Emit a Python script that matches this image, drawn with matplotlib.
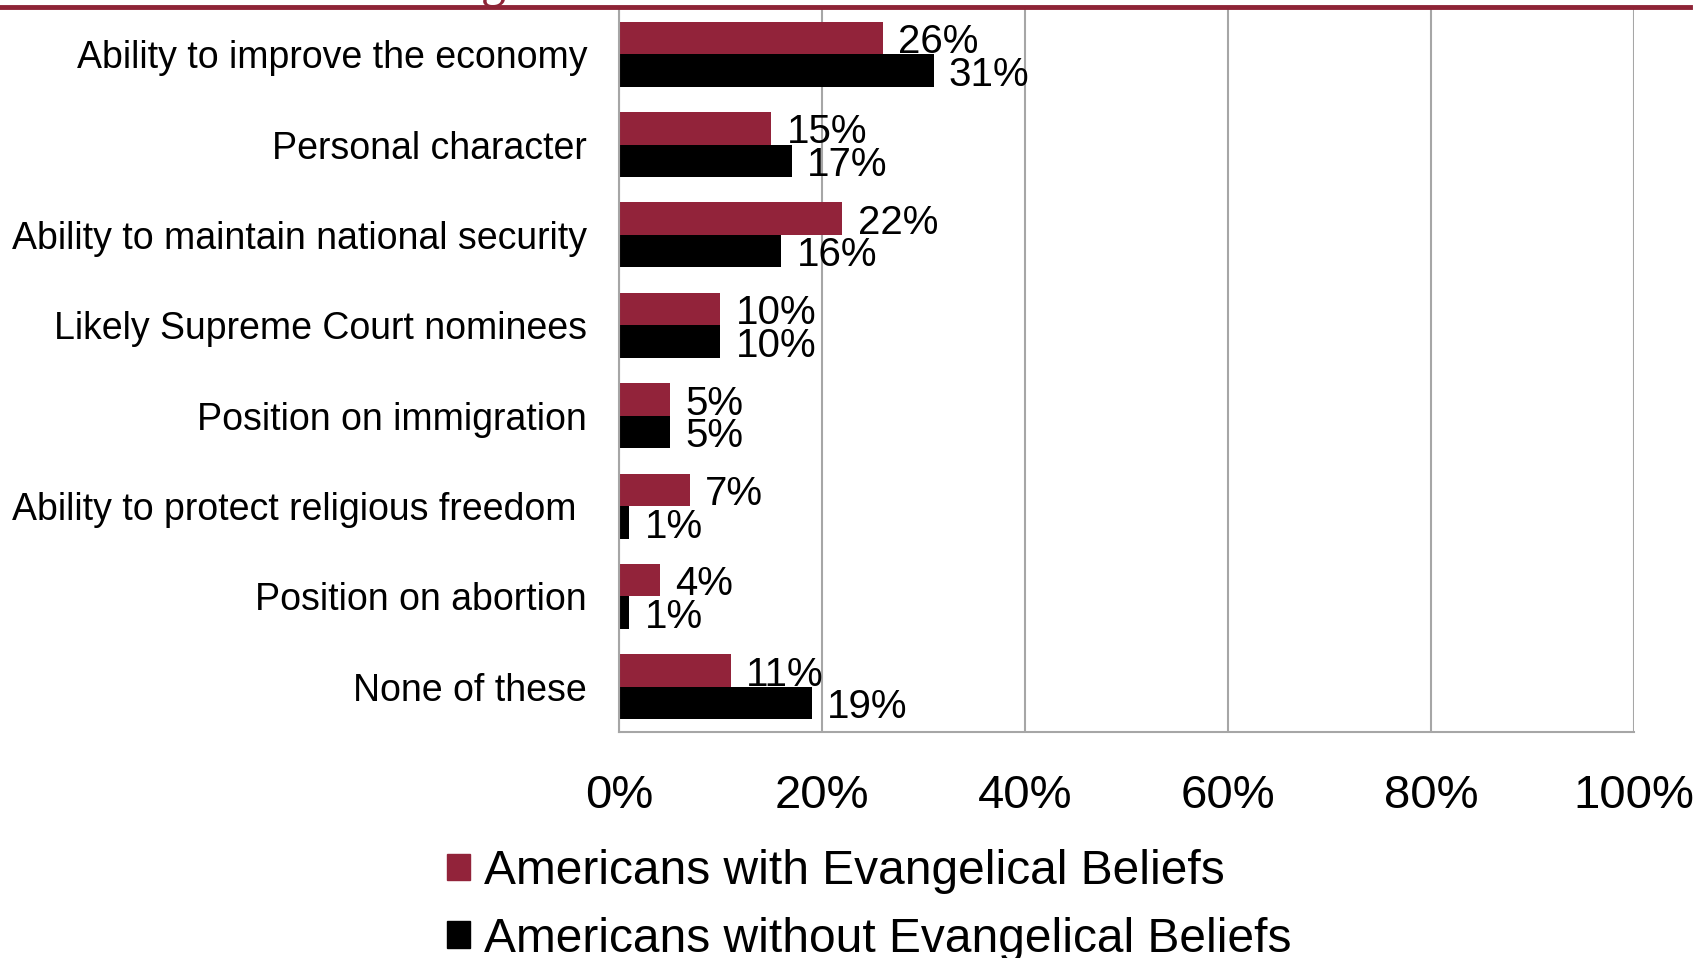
import numpy as np
import matplotlib.pyplot as plt
from matplotlib.patches import Patch
from matplotlib.lines import Line2D

plt.rcParams['font.family'] = ['Liberation Sans', 'DejaVu Sans']

categories = ["Ability to improve the economy", "Personal character",
              "Ability to maintain national security", "Likely Supreme Court nominees",
              "Position on immigration", "Ability to protect religious freedom ",
              "Position on abortion", "None of these"]
evangelical = [26, 15, 22, 10, 5, 7, 4, 11]
non_evangelical = [31, 17, 16, 10, 5, 1, 1, 19]
series_names = ["Americans with Evangelical Beliefs", "Americans without Evangelical Beliefs"]
xticks = [0, 20, 40, 60, 80, 100]

red = "#92233A"
grid_gray = "#A6A6A6"

fig = plt.figure(figsize=(17, 9.58), dpi=100)
ax = fig.add_axes([0.3641, 0.2359, 0.9612 - 0.3641, 0.9906 - 0.2359])

y = np.arange(len(categories))
h = 0.36
b1 = ax.barh(y - h / 2, evangelical, height=h, color=red, zorder=2)
b2 = ax.barh(y + h / 2, non_evangelical, height=h, color="black", zorder=2)
labels = ax.bar_label(b1, labels=[f"{v}%" for v in evangelical], padding=11, fontsize=29, zorder=3)
labels += ax.bar_label(b2, labels=[f"{v}%" for v in non_evangelical], padding=11, fontsize=29, zorder=3)
for t in labels:
    t.xyann = (11, -3)

ax.set_ylim(len(categories) - 0.5, -0.5)
ax.set_xlim(0, 100)
ax.set_yticks(y)
ax.set_yticklabels(categories, fontsize=27)
ax.set_xticks(xticks)
ax.set_xticklabels([f"{t}%" for t in xticks], fontsize=34)
ax.tick_params(axis="y", length=0, pad=23)
ax.tick_params(axis="x", length=0, pad=30)
ax.xaxis.grid(True, color=grid_gray, linewidth=1.5, zorder=0)
ax.set_axisbelow(True)
for s in ["top", "right"]:
    ax.spines[s].set_visible(False)
for s in ["left", "bottom"]:
    ax.spines[s].set_color(grid_gray)
    ax.spines[s].set_linewidth(1.5)

# red rule and clipped title descender at the top
fig.add_artist(Line2D([0, 0.994], [0.9925, 0.9925], color="#8E2436", linewidth=3.5))
fig.text(0.283, 1.004, "g", color="#8E2436", fontsize=36, va="baseline", family="Liberation Serif")

handles = [Patch(color=red), Patch(color="black")]
fig.legend(handles, series_names, loc="upper left", bbox_to_anchor=(0.263, 0.1136),
           frameon=False, fontsize=34.5, handlelength=0.48, handleheight=0.48,
           handletextpad=0.3, labelspacing=0.47, borderpad=0, borderaxespad=0)

fig.savefig("out.png", dpi=100)
